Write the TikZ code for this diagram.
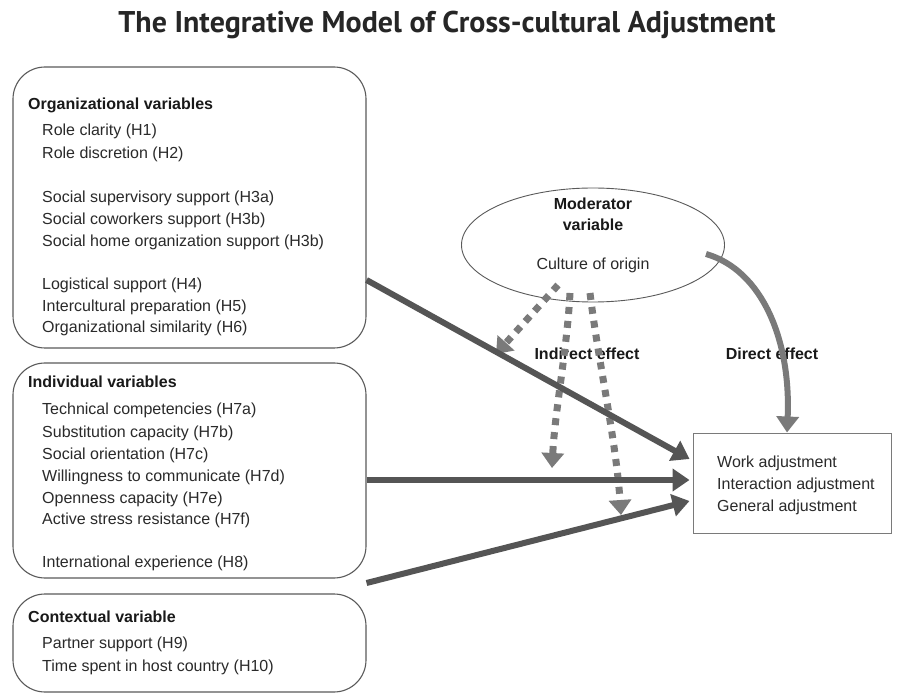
\documentclass[tikz,border=0pt]{standalone}
\usepackage{fontspec}
\usepackage{graphicx}
\setmainfont{Liberation Sans}
\newfontfamily\titlefont{PT Sans}
\usetikzlibrary{arrows.meta,shapes.geometric}
\definecolor{txtgray}{HTML}{2A2A2A}
\definecolor{boxline}{HTML}{5A5A5A}
\definecolor{solidarrow}{HTML}{555555}
\definecolor{lightarrow}{HTML}{7A7A7A}
\tikzset{
  item/.style={anchor=base west, inner sep=0pt, text=txtgray, font=\fontsize{16}{16}\selectfont},
  head/.style={anchor=base west, inner sep=0pt, text=black!90, font=\bfseries\fontsize{16}{16}\selectfont},
  ctxt/.style={anchor=base, inner sep=0pt, text=txtgray, font=\fontsize{16}{16}\selectfont},
  cbold/.style={anchor=base, inner sep=0pt, text=black!90, font=\bfseries\fontsize{16}{16}\selectfont},
  varbox/.style={draw=boxline, line width=1.1pt, rounded corners=32pt, inner sep=0pt},
  solidarr/.style={draw=solidarrow, line width=6pt, -{Triangle[length=17pt,width=22pt]}},
  dasharr/.style={draw=lightarrow, line width=7pt, dash pattern=on 7pt off 7pt, -{Triangle[length=15pt,width=22pt]}},
  directarr/.style={draw=lightarrow, line width=6pt, -{Triangle[length=16pt,width=22pt]}}
}
\begin{document}
\begin{tikzpicture}[x=1pt,y=-1pt]
\useasboundingbox[fill=white] (0,0) rectangle (902,700);

% title
\node[inner sep=0pt, text=black!85] (title) at (447,25) {\resizebox{657pt}{!}{\titlefont\bfseries The Integrative Model of Cross-cultural Adjustment}};

% variable boxes
\node[varbox, minimum width=353pt, minimum height=281pt] (org) at (189.5,207.5) {};
\node[varbox, minimum width=353pt, minimum height=215pt] (ind) at (189.5,470.5) {};
\node[varbox, minimum width=353pt, minimum height=98pt] (ctx) at (189.5,643) {};

% organizational texts
\node[head] (orgh) at (28,109.5) {Organizational variables};
\node[item] (o1) at (42,135.5) {Role clarity (H1)};
\node[item] (o2) at (42,158.5) {Role discretion (H2)};
\node[item] (o3) at (42,202.5) {Social supervisory support (H3a)};
\node[item] (o4) at (42,224.5) {Social coworkers support (H3b)};
\node[item] (o5) at (42,246.5) {Social home organization support (H3b)};
\node[item] (o6) at (42,289.5) {Logistical support (H4)};
\node[item] (o7) at (42,311.5) {Intercultural preparation (H5)};
\node[item] (o8) at (42,332.5) {Organizational similarity (H6)};

% individual texts
\node[head] (indh) at (28,387.5) {Individual variables};
\node[item] (i1) at (42,414.5) {Technical competencies (H7a)};
\node[item] (i2) at (42,437.5) {Substitution capacity (H7b)};
\node[item] (i3) at (42,459.5) {Social orientation (H7c)};
\node[item] (i4) at (42,481.5) {Willingness to communicate (H7d)};
\node[item] (i5) at (42,503.5) {Openness capacity (H7e)};
\node[item] (i6) at (42,524.5) {Active stress resistance (H7f)};
\node[item] (i7) at (42,567.5) {International experience (H8)};

% contextual texts
\node[head] (ctxh) at (28,622.5) {Contextual variable};
\node[item] (c1) at (42,648.5) {Partner support (H9)};
\node[item] (c2) at (42,671.5) {Time spent in host country (H10)};

% moderator ellipse
\node[ellipse, draw=boxline, line width=0.9pt, minimum width=263pt, minimum height=114pt, inner sep=0pt] (mod) at (593,245) {};
\node[cbold] (m1) at (593,209.5) {Moderator};
\node[cbold] (m2) at (593,230.5) {variable};
\node[ctxt] (m3) at (593,269.5) {Culture of origin};

% outcome box
\node[draw=lightarrow, line width=1pt, minimum width=198pt, minimum height=100pt, inner sep=0pt] (out) at (792,483) {};
\node[item] (w1) at (717,467.5) {Work adjustment};
\node[item] (w2) at (717,489.5) {Interaction adjustment};
\node[item] (w3) at (717,511.5) {General adjustment};

% effect labels
\node[cbold] (ind-lab) at (587,359.5) {Indirect effect};
\node[cbold] (dir-lab) at (772,359.5) {Direct effect};

% coordinates inside the ellipse
\coordinate (d1s) at (558,285);
\coordinate (d2s) at (570,293);
\coordinate (d3s) at (590,293);
\coordinate (ds) at (706,254);
\coordinate (d1e) at (496,354);
\coordinate (d2e) at (552,468);
\coordinate (d3e) at (621,515);

% indirect (dashed) arrows
\draw[dasharr] (d1s) -- (d1e);
\draw[dasharr] (d2s) .. controls (567,350) and (555,410) .. (d2e);
\draw[dasharr] (d3s) .. controls (598,360) and (616,440) .. (d3e);

% direct effect arrow
\draw[directarr] (ds) .. controls (762,270) and (791,340) .. (out.north -| 787,0);

% main arrows
\draw[solidarr] (org.east |- 0,280) -- ([xshift=-3pt]out.west |- 0,459);
\draw[solidarr] (ind.east |- 0,480) -- ([xshift=-3pt]out.west |- 0,480);
\draw[solidarr] (ctx.east |- 0,583) -- ([xshift=-3pt]out.west |- 0,501);
\end{tikzpicture}
\end{document}
